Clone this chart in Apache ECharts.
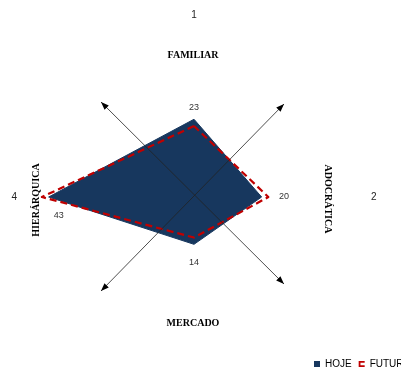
<!DOCTYPE html>
<html>
<head>
<meta charset="utf-8">
<script src="https://cdn.jsdelivr.net/npm/echarts@6/dist/echarts.min.js"></script>
<style>
  html, body { margin: 0; padding: 0; background: #fff; }
  #chart { width: 401px; height: 370px; }
</style>
</head>
<body>
<div id="chart"></div>
<script>
// Culture profile: four dimensions, current vs. desired
const dims = ['1', '2', '3', '4'];
const quadrants = ['FAMILIAR', 'ADOCRÁTICA', 'MERCADO', 'HIERÁRQUICA'];
const hoje = [23, 20, 14, 43];
const futuro = [21, 22, 12, 45];
const axisMax = 50;

const NAVY = '#17375e';
const RED = '#c00000';
const SANS = 'Liberation Sans, Arial, sans-serif';
const SERIF = 'Liberation Serif, Times New Roman, serif';

const cx = 194, cy = 197, R = 169;

// radar lays indicators out counter-clockwise from the top; reorder so that
// 1 = top, 2 = right, 3 = bottom, 4 = left
const order = [0, 3, 2, 1];
const pick = arr => order.map(i => arr[i]);

// value labels: each dimension gets its own placement
const labelPlacement = [
  { position: 'top', distance: 7, offset: [0, 0] },
  { position: 'right', distance: 17, offset: [0, 0] },
  { position: 'bottom', distance: 13, offset: [0, 0] },
  { position: 'bottom', distance: 14, offset: [10, 0] }
];

const labelSeries = dims.map((d, k) => ({
  type: 'radar',
  silent: true,
  z: 5,
  symbol: 'circle',
  symbolSize: 1,
  itemStyle: { color: 'rgba(0,0,0,0)' },
  lineStyle: { width: 0, opacity: 0 },
  data: [{
    name: 'v' + d,
    value: pick(hoje),
    label: {
      show: true,
      position: labelPlacement[k].position,
      distance: labelPlacement[k].distance,
      offset: labelPlacement[k].offset,
      color: '#333',
      fontSize: 9,
      fontFamily: SANS,
      formatter: p => (p.value === hoje[k] ? String(hoje[k]) : '')
    }
  }]
}));

// crossing diagonal arrows
function arrowGraphics() {
  const out = [];
  const dx = 93, dy = 95;
  const ends = [
    [[cx - dx, cy - dy], [cx + dx - 3, cy + dy - 8]],
    [[cx - dx, cy + dy - 1], [cx + dx - 3, cy - dy + 2]]
  ];
  ends.forEach(([a, b]) => {
    out.push({
      type: 'line', z: 100, silent: true,
      shape: { x1: a[0], y1: a[1], x2: b[0], y2: b[1] },
      style: { stroke: '#222', lineWidth: 0.8 }
    });
    [[a, b], [b, a]].forEach(([tip, from]) => {
      const ang = Math.atan2(tip[1] - from[1], tip[0] - from[0]);
      const L = 8, W = 3;
      const bx = tip[0] - L * Math.cos(ang), by = tip[1] - L * Math.sin(ang);
      const px = -Math.sin(ang) * W, py = Math.cos(ang) * W;
      out.push({
        type: 'polygon', z: 100, silent: true,
        shape: { points: [[tip[0], tip[1]], [bx + px, by + py], [bx - px, by - py]] },
        style: { fill: '#000' }
      });
    });
  });
  return out;
}

const quadrantText = [
  { text: quadrants[0], x: 193, y: 55, rotation: 0 },
  { text: quadrants[1], x: 328, y: 199, rotation: -Math.PI / 2 },
  { text: quadrants[2], x: 193, y: 323, rotation: 0 },
  { text: quadrants[3], x: 36, y: 200, rotation: Math.PI / 2 }
].map(q => ({
  type: 'text', z: 100, silent: true,
  x: q.x, y: q.y, rotation: q.rotation,
  style: {
    text: q.text, x: 0, y: 0, align: 'center', verticalAlign: 'middle',
    font: 'bold 10px ' + SERIF, fill: '#000'
  }
}));

const chart = echarts.init(document.getElementById('chart'), null, { renderer: 'canvas' });
chart.setOption({
  animation: false,
  backgroundColor: '#fff',
  legend: {
    data: [
      { name: 'HOJE', icon: 'rect' },
      { name: 'FUTURO', icon: 'path://M0,0H10V3H3V7H10V10H0Z' }
    ],
    left: 314, top: 359, width: 300,
    orient: 'horizontal',
    padding: 0,
    itemWidth: 6, itemHeight: 6, itemGap: 7,
    textStyle: { fontSize: 10, color: '#000', fontFamily: SANS }
  },
  radar: {
    center: [cx, cy],
    radius: R,
    startAngle: 90,
    shape: 'polygon',
    splitNumber: 5,
    indicator: pick(dims).map(n => ({ name: n, min: 0, max: axisMax })),
    axisName: { color: '#222', fontSize: 10, fontFamily: SANS },
    nameGap: 8,
    axisLine: { show: false },
    axisTick: { show: false },
    axisLabel: { show: false },
    splitLine: { show: false },
    splitArea: { show: false }
  },
  series: [
    {
      type: 'radar',
      z: 2,
      symbol: 'none',
      data: [{
        name: 'HOJE',
        value: pick(hoje),
        itemStyle: { color: NAVY },
        lineStyle: { color: NAVY, width: 1 },
        areaStyle: { color: NAVY, opacity: 1 }
      }]
    },
    {
      type: 'radar',
      z: 3,
      symbol: 'none',
      data: [{
        name: 'FUTURO',
        value: pick(futuro),
        itemStyle: { color: RED },
        lineStyle: { color: RED, width: 2.2, type: [7, 4] }
      }]
    }
  ].concat(labelSeries),
  graphic: arrowGraphics().concat(quadrantText)
});
</script>
</body>
</html>
